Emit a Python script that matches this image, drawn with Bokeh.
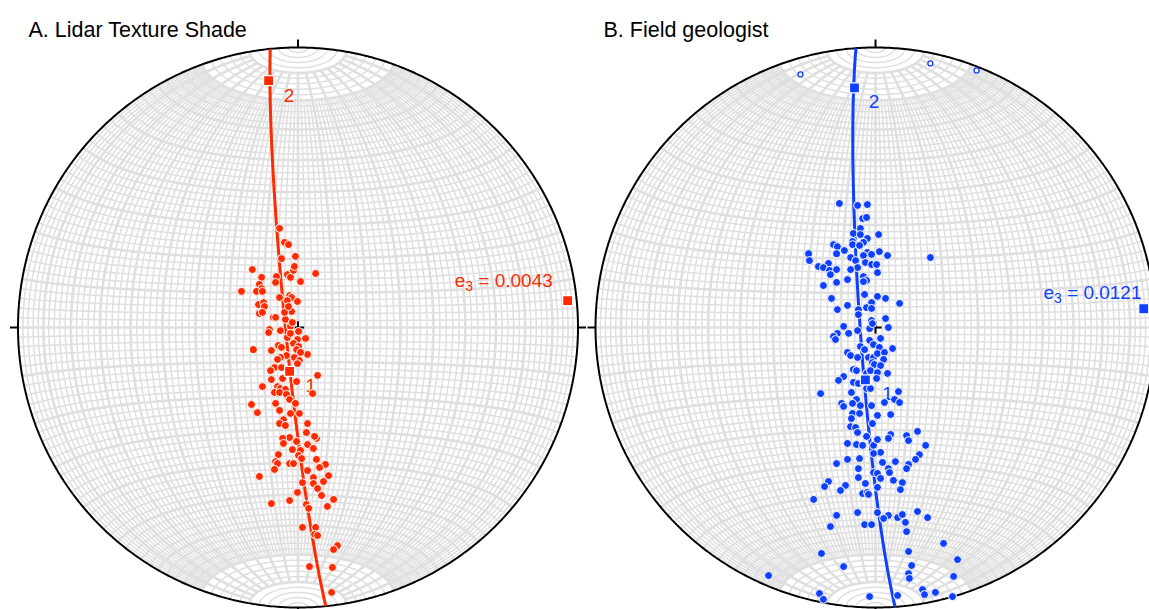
import numpy as np
from bokeh.plotting import figure
from bokeh.layouts import row
from bokeh.models import Range1d
from bokeh.embed import file_html
from bokeh.resources import INLINE
from bokeh.core.properties import value

FONT = "Liberation Sans"
GRID_COLOR = "#dfdfdf"

# ---------------- data (projected net coordinates, primitive radius = 100) -------------
titles = ["A. Lidar Texture Shade", "B. Field geologist"]
colors = ["#ff2a00", "#1040ff"]
e3_values = ["0.0043", "0.0121"]

a_east = [-6.6, -4.8, -3.4, -5.9, -0.9, -16.3, -7.7, -13.0, -3.8, -2.7,
          -1.6, -1.3, 6.3, 0.9, -8.0, -13.8, -13.0, -20.2, -14.8, -12.7,
          -6.6, -3.0, -2.3, -3.8, -0.2, -14.1, -12.3, -12.0, -13.8, -12.7,
          -2.3, -8.8, -8.0, -4.5, -2.7, -10.2, -10.5, -6.3, 0.2, -0.2,
          2.7, -3.8, -15.9, -9.5, -7.0, -5.9, -1.6, 0.2, -0.5, -4.1,
          -6.3, -7.3, 3.4, -1.3, 0.5, -8.4, -9.8, -5.9, -0.2, 7.0,
          -5.5, -12.7, -9.5, -0.5, -7.3, -6.3, -4.5, -8.4, -6.6, -4.1,
          -3.0, -0.9, 5.2, -8.0, -16.6, -14.5, -6.6, -2.7, 0.5, -5.2,
          -6.6, -4.5, 3.4, 3.0, -3.0, -5.5, 6.6, 5.9, -0.5, -5.2,
          3.4, -2.0, 5.5, 0.9, -7.0, 0.2, 1.3, 6.6, -8.0, -7.3,
          -3.0, -1.6, 9.8, 7.7, 3.4, -8.4, -13.8, 5.5, 10.9, 9.1,
          5.5, 1.6, 7.0, -0.2, 8.4, 12.7, -3.0, -9.5, 3.0, 3.8,
          10.5, 1.6, 6.3, 5.9, 7.0, 14.1, 12.7, 4.1, 12.3, 12.0,
          -2.7, 0.9, -2.0, -4.8, -3.4]
a_north = [35.4, 30.4, 29.6, 24.6, 25.4, 20.7, 18.2, 17.9, 18.9, 17.9,
           20.4, 21.8, 19.3, 16.4, 16.1, 15.4, 13.9, 12.9, 12.9, 12.9,
           10.7, 11.4, 10.7, 9.6, 9.3, 8.2, 8.9, 7.5, 5.0, 5.4,
           5.7, 3.6, 3.6, 2.9, 0.4, -0.7, -1.8, -1.1, -1.4, -4.3,
           -3.9, -3.6, -7.9, -8.2, -6.4, -7.1, -5.7, -6.8, -7.9, -10.0,
           -10.7, -11.4, -9.6, -10.7, -11.8, -14.3, -15.4, -14.3, -12.9, -17.1,
           -18.2, -21.1, -18.6, -19.3, -21.1, -21.8, -22.1, -23.2, -23.2, -23.9,
           -25.7, -27.1, -23.6, -27.1, -27.5, -30.4, -29.6, -30.7, -30.7, -32.9,
           -34.3, -35.0, -34.3, -37.5, -39.3, -39.6, -39.6, -38.9, -40.7, -41.4,
           -41.8, -43.6, -43.2, -43.9, -45.4, -45.7, -46.8, -47.1, -47.9, -48.6,
           -48.6, -48.6, -48.9, -50.0, -51.1, -50.7, -53.2, -53.6, -52.9, -55.0,
           -55.7, -55.4, -57.5, -58.9, -60.0, -61.4, -61.8, -62.9, -63.2, -64.6,
           -63.9, -71.4, -71.4, -73.9, -74.3, -77.9, -79.3, -85.4, -85.7, -94.6,
           -2.1, -8.9, 1.8, 5.4, 7.5]

b_east = [-12.9, -6.4, -2.9, -4.6, -3.2, -5.4, -7.9, -5.4, -2.9, 1.1,
          -8.2, -4.3, -8.2, -5.7, -15.0, -13.6, -2.9, -11.1, -23.9, -13.9,
          1.4, 4.3, -4.3, -1.4, -8.9, -7.1, 19.6, -23.6, -16.8, -20.4,
          -18.6, -3.6, -1.4, 0.4, -6.4, -8.9, -16.4, -13.9, 0.7, -4.3,
          -3.2, -4.3, -16.1, -10.0, -13.9, -18.6, -3.9, 0.7, 3.6, -15.7,
          8.6, -1.4, -3.2, -1.4, -10.0, -6.1, -6.1, -13.6, 3.6, -1.4,
          4.6, -11.4, -13.6, -15.0, -14.3, -9.6, -6.4, -2.1, -1.1, 1.8,
          6.1, -2.1, -0.7, 1.4, -5.4, -3.9, -10.0, -8.9, -6.4, -2.5,
          -0.7, 0.7, 3.2, 2.9, -1.1, -0.4, 1.8, -7.9, -6.8, -3.2,
          -1.8, 0.7, 4.3, -11.4, -13.2, -7.9, -6.1, 0.4, -3.2, -1.8,
          -8.6, -19.6, 8.2, 6.8, 8.6, -6.8, -8.2, 3.2, -12.1, -11.4,
          -5.4, -1.4, -8.2, -5.7, 0.7, 5.4, -8.6, -8.9, -7.1, -1.1,
          -6.4, -3.2, 5.4, 4.6, 11.1, 11.8, 15.0, -10.0, -6.8, -4.6,
          -0.7, 0.7, 17.9, 1.8, -0.7, 15.7, 14.3, -10.0, -5.7, 7.1,
          2.5, 11.8, 11.1, -13.9, -6.1, 4.6, 5.0, -0.7, 0.7, 1.8,
          -6.1, -3.6, 6.4, 9.6, -16.8, -18.2, -10.7, -12.5, 8.9, -4.6,
          -2.9, -2.5, 0.7, -22.1, -6.4, 0.7, 4.6, 2.9, 7.9, 9.6,
          10.7, 15.0, 18.6, -13.9, -16.1, -3.9, -1.4, 11.1, 24.3, 11.8,
          -19.3, 29.3, -11.4, 12.9, 11.8, 12.1, 27.9, -38.2, 16.8, 17.5,
          21.4, 27.5, -20.0, -18.6, -2.1, 7.9]
b_north = [44.3, 43.6, 43.9, 38.9, 39.3, 35.4, 33.6, 33.2, 31.8, 33.2,
           30.7, 30.4, 29.6, 29.3, 29.6, 28.9, 26.8, 27.5, 26.4, 26.4,
           27.1, 25.7, 25.7, 26.1, 25.0, 23.9, 25.0, 23.9, 22.9, 21.8,
           21.4, 23.2, 22.5, 22.5, 21.4, 20.7, 20.4, 20.7, 19.6, 18.2,
           16.8, 16.4, 18.9, 17.1, 16.1, 15.0, 11.8, 11.1, 10.4, 10.4,
           8.6, 8.9, 7.1, 6.8, 7.9, 6.4, 4.6, 6.4, 3.2, 2.5,
           0.0, 0.4, -2.1, -3.2, -4.3, -2.1, -1.1, -0.4, 1.4, -3.9,
           -7.5, -4.6, -6.1, -7.1, -6.8, -7.9, -8.9, -10.0, -10.7, -10.7,
           -10.7, -9.3, -8.9, -11.4, -12.5, -13.2, -13.6, -15.0, -15.4, -16.4,
           -15.4, -16.1, -16.4, -17.5, -18.9, -19.6, -20.0, -18.2, -21.8, -21.8,
           -23.2, -23.6, -22.9, -25.7, -26.8, -25.7, -27.1, -26.8, -27.1, -28.2,
           -27.9, -27.9, -30.7, -30.7, -31.4, -31.1, -32.5, -35.4, -35.7, -34.3,
           -37.5, -38.9, -38.2, -39.6, -38.6, -40.4, -37.1, -41.4, -41.8, -42.1,
           -42.1, -40.0, -42.1, -44.6, -45.0, -45.4, -47.1, -47.1, -46.8, -47.9,
           -48.2, -48.9, -50.4, -48.6, -50.4, -50.4, -51.8, -51.8, -52.1, -53.9,
           -53.6, -55.7, -54.6, -55.4, -55.0, -56.8, -56.4, -58.2, -57.9, -59.3,
           -58.9, -59.6, -57.1, -61.4, -66.1, -66.1, -67.1, -68.2, -67.9, -66.8,
           -69.6, -65.7, -67.9, -67.1, -71.1, -70.4, -70.4, -72.9, -77.1, -80.0,
           -80.7, -82.9, -85.4, -85.0, -87.9, -89.6, -88.9, -88.6, -93.6, -95.4,
           -94.6, -96.1, -95.0, -97.1, -96.1, -95.7]

# upper-hemisphere (open) points, panel B only
b_up_east = [-26.8, 19.6, 36.1]
b_up_north = [90.4, 94.3, 91.8]

# eigenvectors 1, 2, 3 (projected)
a_eig_east = [-3.0, -10.5, 96.3]
a_eig_north = [-15.7, 88.2, 9.6]
b_eig_east = [-3.6, -7.5, 95.8]
b_eig_north = [-18.7, 85.6, 6.7]

eig_labels = ["1", "2"]
# label anchor positions (net units)
a_lab_east, a_lab_north = [2.7, -5.1], [-20.7, 82.9]
b_lab_east, b_lab_north = [2.4, -2.4], [-23.7, 80.8]
a_e3_pos = (91.0, 16.8)
b_e3_pos = (95.0, 12.6)

# ---------------- geometry helpers -------------
R = 100.0
PX = 2.8  # pixels per net unit
H = 609


def proj(vx, vy, vz):
    s = R / np.sqrt(1.0 + vz)
    return vx * s, vy * s


def net_grid():
    minor_x, minor_y, major_x, major_y = [], [], [], []
    for psi_deg in range(2, 180, 2):
        psi = np.radians(psi_deg)
        lim = 80 if psi_deg % 10 == 0 else 70
        th = np.radians(np.linspace(-lim, lim, 241))
        x, y = proj(np.cos(th) * np.cos(psi), np.sin(th), np.cos(th) * np.sin(psi))
        if psi_deg % 10 == 0:
            major_x.append(x.tolist()); major_y.append(y.tolist())
        else:
            minor_x.append(x.tolist()); minor_y.append(y.tolist())
    psi = np.radians(np.linspace(0, 180, 241))
    for th_deg in range(-88, 90, 2):
        th = np.radians(th_deg)
        x, y = proj(np.cos(th) * np.cos(psi), np.full_like(psi, np.sin(th)),
                    np.cos(th) * np.sin(psi))
        if th_deg % 10 == 0:
            major_x.append(x.tolist()); major_y.append(y.tolist())
        else:
            minor_x.append(x.tolist()); minor_y.append(y.tolist())
    return minor_x, minor_y, major_x, major_y


def plane_trace(pe, pn):
    c = 1.0 - (pe ** 2 + pn ** 2) / R ** 2
    k = np.sqrt(1.0 + c) / R
    n = np.array([pe * k, pn * k, c])
    n /= np.linalg.norm(n)
    s = np.array([-n[1], n[0], 0.0]); s /= np.linalg.norm(s)
    d = np.cross(n, s)
    if d[2] < 0:
        d = -d
    t = np.linspace(0, np.pi, 400)
    pts = np.outer(np.cos(t), s) + np.outer(np.sin(t), d)
    return proj(pts[:, 0], pts[:, 1], pts[:, 2])


GRID = net_grid()


def panel(width, cx, cy, title, title_dx, color, east, north, eig_e, eig_n,
          lab_e, lab_n, e3_pos, e3_val, up_e=None, up_n=None):
    p = figure(width=width, height=H,
               x_range=Range1d(-cx / PX, (width - cx) / PX),
               y_range=Range1d(-(H - cy) / PX, cy / PX),
               x_axis_type=None, y_axis_type=None,
               output_backend="svg", toolbar_location=None,
               min_border=0, min_border_left=0, min_border_right=0,
               min_border_top=0, min_border_bottom=0)
    p.outline_line_color = None
    p.background_fill_color = "white"
    p.border_fill_color = "white"

    mnx, mny, mjx, mjy = GRID
    p.multi_line(mnx, mny, line_color=GRID_COLOR, line_width=1.5)
    p.multi_line(mjx, mjy, line_color=GRID_COLOR, line_width=2.6)

    a = np.linspace(0, 2 * np.pi, 720)
    p.line(R * np.cos(a), R * np.sin(a), line_color="black", line_width=2)
    t = 8 / PX
    p.multi_line([[0, 0], [-R, -R - t], [R, R + t], [0, 0], [-2.2, 2.2], [0, 0]],
                 [[R, R + t], [0, 0], [0, 0], [-R, -R - t], [0, 0], [-2.2, 2.2]],
                 line_color="black", line_width=2)

    p.text(lab_e, lab_n, text=eig_labels, text_color=color,
           text_font=value(FONT), text_font_size=value("19px"),
           text_align="left", text_baseline="alphabetic")

    gx, gy = plane_trace(eig_e[2], eig_n[2])
    p.line(gx, gy, line_color=color, line_width=3)

    p.scatter(east, north, size=8, fill_color=color, line_color="white", line_width=1)
    if up_e is not None:
        p.scatter(up_e, up_n, size=5, fill_color="white", line_color=color, line_width=1.3)

    p.scatter(eig_e, eig_n, marker="square", size=10, fill_color=color,
              line_color="white", line_width=1.2)

    # e3 label: "e" + subscript "3" + " = value" (Arial metrics)
    main_fs, sub_fs = 19, 14
    rest = "\u00a0= " + e3_val
    w_rest = (0.278 + 0.584 + 0.278 + 0.278 + 0.556 * (len(e3_val) - 1)) * main_fs
    w_sub = 0.556 * sub_fs
    xr, yb = e3_pos
    p.text([xr], [yb], text=[rest], text_color=color, text_font=value(FONT),
           text_font_size=value(f"{main_fs}px"), text_align="right",
           text_baseline="alphabetic")
    p.text([xr - w_rest / PX], [yb - 5.5 / PX], text=["3"], text_color=color,
           text_font=value(FONT), text_font_size=value(f"{sub_fs}px"),
           text_align="right", text_baseline="alphabetic")
    p.text([xr - (w_rest + w_sub) / PX], [yb], text=["e"], text_color=color,
           text_font=value(FONT), text_font_size=value(f"{main_fs}px"),
           text_align="right", text_baseline="alphabetic")

    p.text([title_dx / PX], [(cy - 29) / PX], text=[title], text_color="black",
           text_font=value(FONT), text_font_size=value("21.5px"),
           text_align="left", text_baseline="alphabetic")
    return p


pA = panel(586, 297.5, 327, titles[0], -269.5, colors[0], a_east, a_north,
           a_eig_east, a_eig_north, a_lab_east, a_lab_north, a_e3_pos, e3_values[0])
pB = panel(563, 289, 327, titles[1], -272, colors[1], b_east, b_north,
           b_eig_east, b_eig_north, b_lab_east, b_lab_north, b_e3_pos, e3_values[1],
           b_up_east, b_up_north)

layout = row(pA, pB)
open("out.html", "w").write(file_html(layout, INLINE))
